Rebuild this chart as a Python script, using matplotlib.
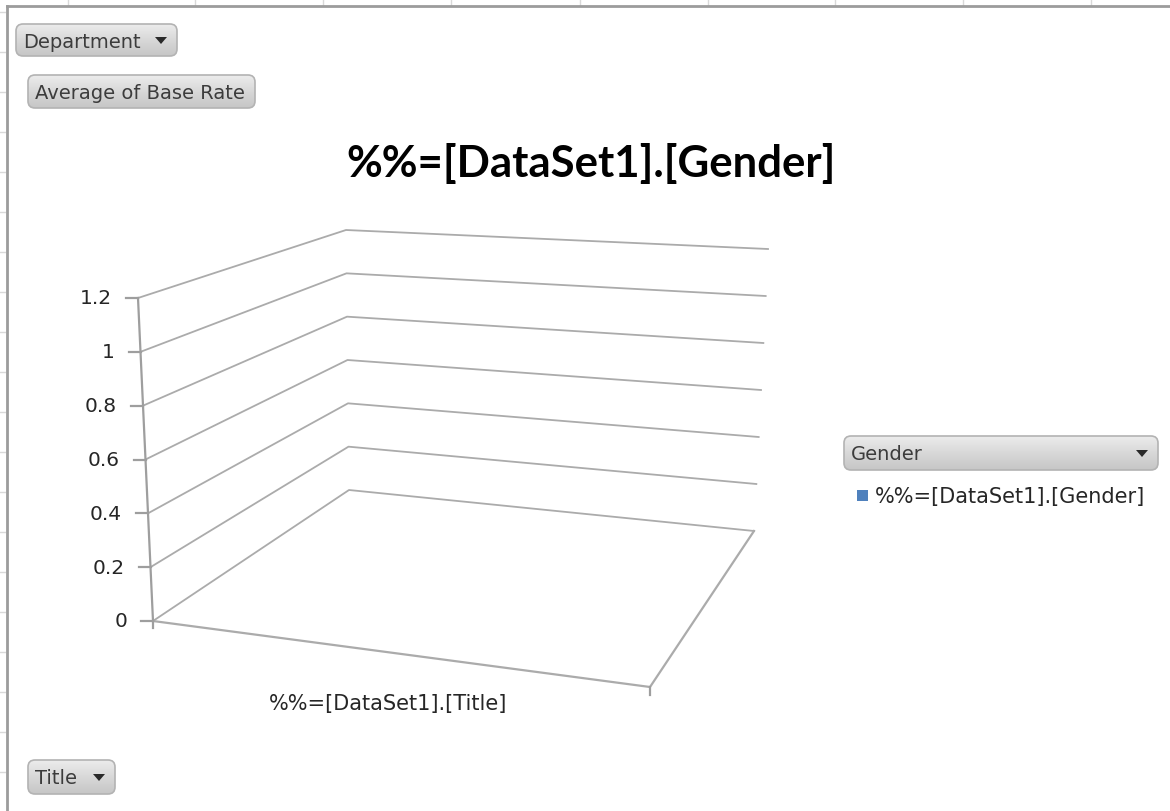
import matplotlib
matplotlib.use("Agg")
import numpy as np
import matplotlib.pyplot as plt
from matplotlib.patches import FancyBboxPatch, Rectangle, Polygon
from matplotlib.colors import LinearSegmentedColormap

# --- Chart content (pivot chart with no data rows) ---
chart_title = "%%=[DataSet1].[Gender]"
categories = ["%%=[DataSet1].[Title]"]
series_names = ["%%=[DataSet1].[Gender]"]
series_values = [[]]          # the pivot returned no values
y_ticks = [0, 0.2, 0.4, 0.6, 0.8, 1.0, 1.2]
y_tick_labels = ["0", "0.2", "0.4", "0.6", "0.8", "1", "1.2"]
y_max = 1.2
field_buttons = ["Department", "Average of Base Rate", "Gender", "Title"]

W, H = 1170, 812
fig = plt.figure(figsize=(W / 100, H / 100), dpi=100)
ax = fig.add_axes([0, 0, 1, 1])
ax.set_xlim(0, W)
ax.set_ylim(H, 0)
ax.axis("off")

grid_col = "#ababab"
axis_col = "#9e9e9e"

# --- Spreadsheet grid peeking out behind the chart ---
for gx in [68, 195, 323, 451, 580, 708, 835, 963, 1091]:
    ax.plot([gx, gx], [0, 6], color="#d9d9d9", lw=1)
for gy in range(13, H, 40):
    ax.plot([0, 5], [gy, gy], color="#d9d9d9", lw=1)
ax.plot([7, W], [7, 7], color="#9c9c9c", lw=2)
ax.plot([7, 7], [7, H], color="#9c9c9c", lw=2)

# --- 3D frame (pixel corners of the projected box) ---
front_left = ((153, 622), (138, 299))   # (bottom, top at y_max)
back_left = ((349, 491), (346, 231))
back_right = ((754, 532), (768, 250))
front_right = (650, 688)


def edge(e, v):
    (x0, y0), (x1, y1) = e
    t = v / y_max
    return x0 + (x1 - x0) * t, y0 + (y1 - y0) * t


# walls: gridlines on side wall and back wall
for v in y_ticks:
    fl, bl, br = edge(front_left, v), edge(back_left, v), edge(back_right, v)
    ax.plot([fl[0], bl[0], br[0]], [fl[1], bl[1], br[1]], color=grid_col, lw=1.3)

# floor
ax.plot([front_left[0][0], front_right[0], back_right[0][0]],
        [front_left[0][1], front_right[1], back_right[0][1]], color=grid_col, lw=1.6)

# value axis line and ticks
ax.plot([front_left[0][0], front_left[1][0]], [front_left[0][1], front_left[1][1]],
        color=axis_col, lw=1.6)
for v, lab in zip(y_ticks, y_tick_labels):
    x, y = edge(front_left, v)
    ax.plot([x - 12, x], [y, y], color=axis_col, lw=1.6)
    ax.text(x - 26, y, lab, ha="right", va="center", fontsize=14.5,
            family="DejaVu Sans", color="#262626")

# category ticks
ax.plot([153, 153], [622, 629], color=axis_col, lw=1.6)
ax.plot([650, 650], [688, 696], color=axis_col, lw=1.6)
for cat in categories:
    ax.text(388, 704, cat, ha="center", va="center", fontsize=15,
            family="DejaVu Sans", color="#262626")

# no bars: series_values is empty

# --- title ---
ax.text(591, 163, chart_title, ha="center", va="center", fontsize=31.5,
        fontweight="bold", family="Lato", color="black")

# --- pivot field buttons ---
btn_cmap = LinearSegmentedColormap.from_list("btn", ["#ececec", "#d8d8d8", "#c6c6c6"])
grad = np.linspace(0, 1, 64).reshape(-1, 1)


def button(x0, y0, x1, y1, label, arrow=False):
    box = FancyBboxPatch((x0, y0), x1 - x0, y1 - y0,
                         boxstyle="round,pad=0,rounding_size=7",
                         facecolor="none", edgecolor="#b3b3b3", lw=1.2, zorder=3)
    ax.add_patch(box)
    im = ax.imshow(grad, cmap=btn_cmap, extent=(x0, x1, y1, y0), aspect="auto",
                   origin="upper", zorder=2)
    im.set_clip_path(box)
    ax.text(x0 + 7, (y0 + y1) / 2 + 1, label, ha="left", va="center",
            fontsize=14, family="DejaVu Sans", color="#3c3c3c", zorder=4)
    if arrow:
        ax_x, ay = x1 - 16, (y0 + y1) / 2
        ax.add_patch(Polygon([[ax_x - 6, ay - 3], [ax_x + 6, ay - 3], [ax_x, ay + 4]],
                             closed=True, facecolor="#2a2a2a", edgecolor="none", zorder=4))


button(16, 25, 177, 57, field_buttons[0], arrow=True)
button(28, 76, 255, 109, field_buttons[1])
button(844, 437, 1158, 471, field_buttons[2], arrow=True)
button(28, 761, 115, 795, field_buttons[3], arrow=True)
ax.set_xlim(0, W)
ax.set_ylim(H, 0)

# --- legend ---
legend_colors = ["#4f81bd"]
for i, (name, col) in enumerate(zip(series_names, legend_colors)):
    ax.add_patch(Rectangle((857, 491 + i * 22), 11, 11, facecolor=col, edgecolor="none"))
    ax.text(875, 497 + i * 22, name, ha="left", va="center", fontsize=15,
            family="DejaVu Sans", color="#262626")

fig.savefig("out.png", dpi=100)
